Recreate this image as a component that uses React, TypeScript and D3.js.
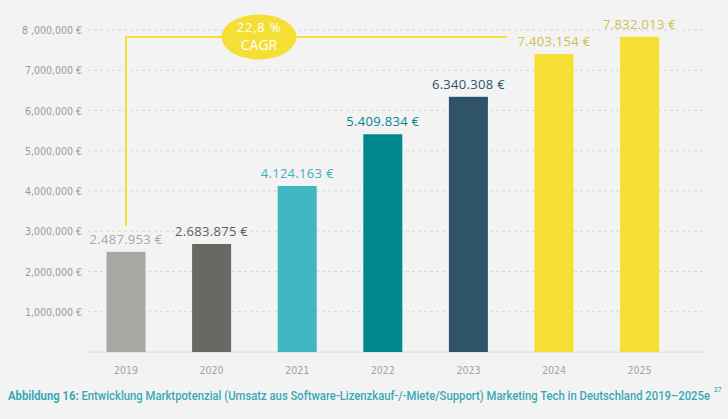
import React from "react";
import * as d3 from "d3";

const years = ["2019", "2020", "2021", "2022", "2023", "2024", "2025"];
const values = [2487953, 2683875, 4124163, 5409834, 6340308, 7403154, 7832013];
const valueLabels = ["2.487.953 €", "2.683.875 €", "4.124.163 €", "5.409.834 €", "6.340.308 €", "7.403.154 €", "7.832.013 €"];
const barColors = ["#a8a7a4", "#696864", "#3fb6c0", "#01888f", "#2f546a", "#f6df35", "#f6df35"];
const labelColors = ["#a9a8a5", "#5e5d5a", "#3fb2bc", "#01888f", "#2f546a", "#cfc04f", "#cfc04f"];
const yTicks = [1000000, 2000000, 3000000, 4000000, 5000000, 6000000, 7000000, 8000000];
const yTickLabels = ["1,000,000 €", "2,000,000 €", "3,000,000 €", "4,000,000 €", "5,000,000 €", "6,000,000 €", "7,000,000 €", "8 ,000,000 €"];
const cagrLines = ["22,8 %", "CAGR"];
const captionBold = "Abbildung 16:";
const captionText = " Entwicklung Marktpotenzial (Umsatz aus Software-Lizenzkauf-/-Miete/Support) Marketing Tech in Deutschland 2019–2025e";

export default function App() {
  const W = 728, H = 419;
  const y = d3.scaleLinear().domain([0, 8000000]).range([352, 30]);
  const step = 85.6;
  const x = d3.scaleBand().domain(years).range([126 - step / 2, 639.6 + step / 2]).paddingInner(1 - 39 / step).paddingOuter((1 - 39 / step) / 2);
  const bw = x.bandwidth();
  const cx = (yr: string) => (x(yr) as number) + bw / 2;
  const x0 = cx(years[0]);
  const bracketTop = 37;
  const ellipseX = 259;
  const sx = 0.86;

  return (
    <div style={{ position: "fixed", left: 0, top: 0, width: W, height: H, background: "#f3f3f3", overflow: "hidden" }}>
      <svg width={W} height={H} style={{ display: "block" }}>
        <rect width={W} height={H} fill="#f3f3f3" />
        {yTicks.map((t, i) => (
          <g key={t}>
            <line x1={88} x2={705} y1={y(t)} y2={y(t)} stroke="#d9d9d9" strokeDasharray="3,3" strokeWidth={1} />
            <text x={82} y={y(t) + 4} textAnchor="end" fontFamily="DejaVu Sans Condensed, DejaVu Sans" fontSize={10.5} fill="#9a9a9a">{yTickLabels[i]}</text>
          </g>
        ))}
        <line x1={88} x2={705} y1={352} y2={352} stroke="#dcdcdc" strokeWidth={1} />
        {years.map((yr, i) => (
          <g key={yr}>
            <rect x={x(yr)} y={y(values[i])} width={bw} height={352 - y(values[i])} fill={barColors[i]} />
            <text x={cx(yr)} y={y(values[i]) - 8} textAnchor="middle" fontFamily="Open Sans" fontSize={13} fill={labelColors[i]} letterSpacing={0.3}>{valueLabels[i]}</text>
            <text x={cx(yr)} y={374} textAnchor="middle" fontFamily="DejaVu Sans Condensed, DejaVu Sans" fontSize={10.5} fill="#a3a3a3">{yr}</text>
          </g>
        ))}
        <path d={`M${x0},${226}V${bracketTop}H${507}`} fill="none" stroke="#f6df35" strokeWidth={2} />
        <ellipse cx={ellipseX} cy={bracketTop} rx={37.5} ry={22.5} fill="#f6df35" />
        <text x={ellipseX} y={bracketTop - 5} textAnchor="middle" fontFamily="Open Sans" fontSize={13} fill="#ffffff" letterSpacing={0.8}>{cagrLines[0]}</text>
        <text x={ellipseX} y={bracketTop + 13} textAnchor="middle" fontFamily="Open Sans" fontSize={14} fill="#ffffff">{cagrLines[1]}</text>
        <g transform={`translate(8,400) scale(${sx},1)`}>
          <text x={0} y={0} fontFamily="Roboto" fontSize={12} fill="#3aa9b5" textLength={702 / sx} lengthAdjust="spacingAndGlyphs">
            <tspan fontWeight={700}>{captionBold}</tspan>
            <tspan fontWeight={500}>{captionText}</tspan>
          </text>
        </g>
        <text x={714} y={392} fontFamily="Roboto" fontWeight={500} fontSize={6.5} fill="#3aa9b5">27</text>
      </svg>
    </div>
  );
}
